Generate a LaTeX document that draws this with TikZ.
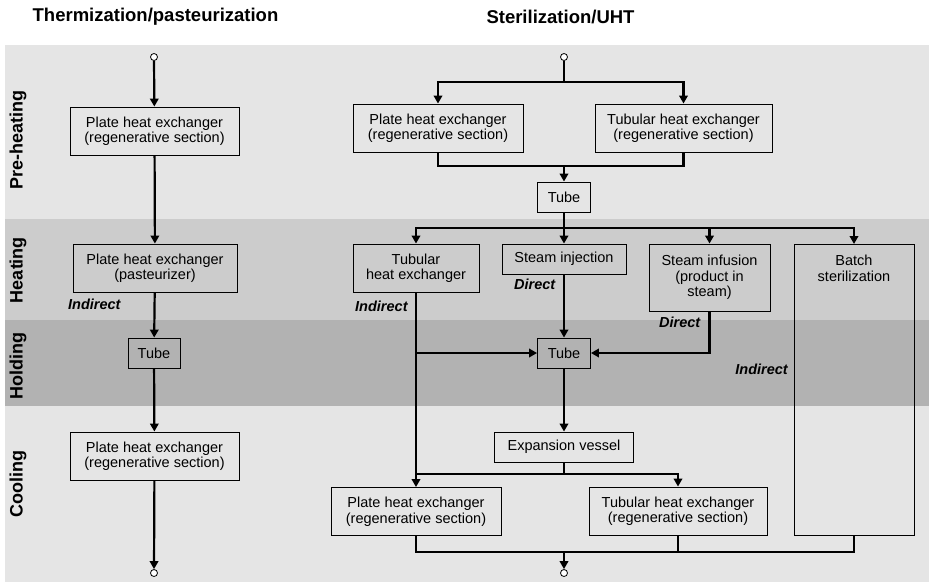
\documentclass[tikz,border=0pt]{standalone}
\usepackage{fontspec}
\setmainfont{Liberation Sans}
\usetikzlibrary{arrows.meta,positioning}

\definecolor{bandlight}{gray}{0.9}
\definecolor{bandmid}{gray}{0.8}
\definecolor{banddark}{gray}{0.7}

\begin{document}
\begin{tikzpicture}[x=1pt, y=-1pt,
  every node/.style={font=\fontsize{14.5}{15.5}\selectfont, align=center, inner sep=0pt},
  box/.style={draw, line width=0.9pt, minimum height=48pt},
  smallbox/.style={draw, line width=0.9pt, minimum height=30pt},
  port/.style={draw, circle, fill=white, line width=0.8pt, minimum size=7pt},
  flow/.style={line width=2.2pt},
  flowto/.style={line width=2.2pt, -{Triangle[length=8pt, width=8.5pt]}},
  mode/.style={font=\fontsize{14.5}{15.5}\selectfont\bfseries\itshape},
  stage/.style={font=\fontsize{18}{19}\selectfont\bfseries, rotate=90},
  heading/.style={font=\fontsize{18.5}{20}\selectfont\bfseries}]
\useasboundingbox (0,0) rectangle (929,582);
% Bands
\fill[bandlight] (5,45) rectangle (929,219);
\fill[bandmid] (5,219) rectangle (929,320);
\fill[banddark] (5,320) rectangle (929,406);
\fill[bandlight] (5,406) rectangle (929,582);
\node[stage] (preheating) at (18,140) {Pre-heating};
\node[stage] (heating) at (18,270) {Heating};
\node[stage] (holding) at (18,366) {Holding};
\node[stage] (cooling) at (18,484) {Cooling};
% Headings
\node[heading] (thermo) at (155.5,17) {Thermization/pasteurization};
\node[heading] (uht) at (560.5,17) {Sterilization/UHT};
% Thermization/pasteurization
\node[port] (inL) at (154,57) {};
\node[box, minimum width=169pt] (preL) at (154.5,131) {Plate heat exchanger\\(regenerative section)};
\node[box, minimum width=164pt] (heatL) at (155,268) {Plate heat exchanger\\(pasteurizer)};
\node[mode, anchor=west] (indL) at (68,304) {Indirect};
\node[smallbox, minimum width=52pt] (tubeL) at (154,353) {Tube};
\node[box, minimum width=169pt] (coolL) at (154.5,456) {Plate heat exchanger\\(regenerative section)};
\node[port] (outL) at (154,573) {};
% Sterilization/UHT
\node[port] (inR) at (564,57) {};
\coordinate (splitA) at (564,82);
\node[box, minimum width=170pt] (prePlate) at (438,128) {Plate heat exchanger\\(regenerative section)};
\node[box, minimum width=177pt] (preTub) at (683.5,128) {Tubular heat exchanger\\(regenerative section)};
\coordinate (joinA) at (564,166);
\node[smallbox, minimum width=53pt] (tubeA) at (564,197) {Tube};
\coordinate (splitB) at (564,228);
\node[box, minimum width=126pt] (heatTub) at (416,268) {Tubular\\heat exchanger};
\node[smallbox, minimum width=124pt] (steamInj) at (564,259) {Steam injection};
\node[draw, line width=0.9pt, minimum width=121pt, minimum height=67pt] (steamInf) at (709.5,277.5) {Steam infusion\\(product in\\steam)};
\node[draw, line width=0.9pt, minimum width=120pt, minimum height=291pt, anchor=north] (batch) at (854,244) {};
\node[anchor=north] (batchtxt) at ([yshift=-11pt]batch.north) {Batch\\sterilization};
\node[mode, anchor=west] (indTub) at (355,306) {Indirect};
\node[mode, anchor=west] (dirInj) at (514,284) {Direct};
\node[mode, anchor=west] (dirInf) at (659,322) {Direct};
\node[mode, anchor=east] (indBatch) at (788,369) {Indirect};
\node[smallbox, minimum width=53pt] (tubeB) at (564,353) {Tube};
\node[smallbox, minimum width=139pt] (expVessel) at (564,447) {Expansion vessel};
\coordinate (joinC) at (564,474);
\node[box, minimum width=170pt] (coolPlate) at (416,511.5) {Plate heat exchanger\\(regenerative section)};
\node[box, minimum width=178pt] (coolTub) at (678,511) {Tubular heat exchanger\\(regenerative section)};
\coordinate (joinD) at (564,552);
\node[port] (outR) at (564,573) {};
% Left flow
\draw[flowto] (inL) -- (preL);
\draw[flowto] (preL) -- (heatL);
\draw[flowto] (heatL) -- (tubeL);
\draw[flowto] (tubeL) -- (coolL);
\draw[flowto] (coolL) -- (outL);
% Right flow
\draw[flow] (inR) -- (splitA);
\draw[flowto] (splitA) -| (prePlate);
\draw[flowto] (splitA) -| (preTub);
\draw[flow] (prePlate) |- (joinA) -| (preTub);
\draw[flowto] (joinA) -- (tubeA);
\draw[flow] (tubeA) -- (splitB);
\draw[flowto] (splitB) -| (heatTub);
\draw[flowto] (splitB) -- (steamInj);
\draw[flowto] (splitB) -| (steamInf);
\draw[flowto] (splitB) -| (batch);
\draw[flowto] (heatTub) |- (tubeB);
\draw[flowto] (steamInj) -- (tubeB);
\draw[flowto] (steamInf) |- (tubeB);
\draw[flowto] (heatTub) -- (coolPlate);
\draw[flowto] (tubeB) -- (expVessel);
\draw[flow] (expVessel) -- (joinC) -- (joinC -| heatTub.south);
\draw[flowto] (joinC) -| (coolTub);
\draw[flow] (coolPlate) |- (joinD) -| (batch);
\draw[flow] (coolTub) -- (coolTub |- joinD);
\draw[flowto] (joinD) -- (outR);
\end{tikzpicture}
\end{document}
